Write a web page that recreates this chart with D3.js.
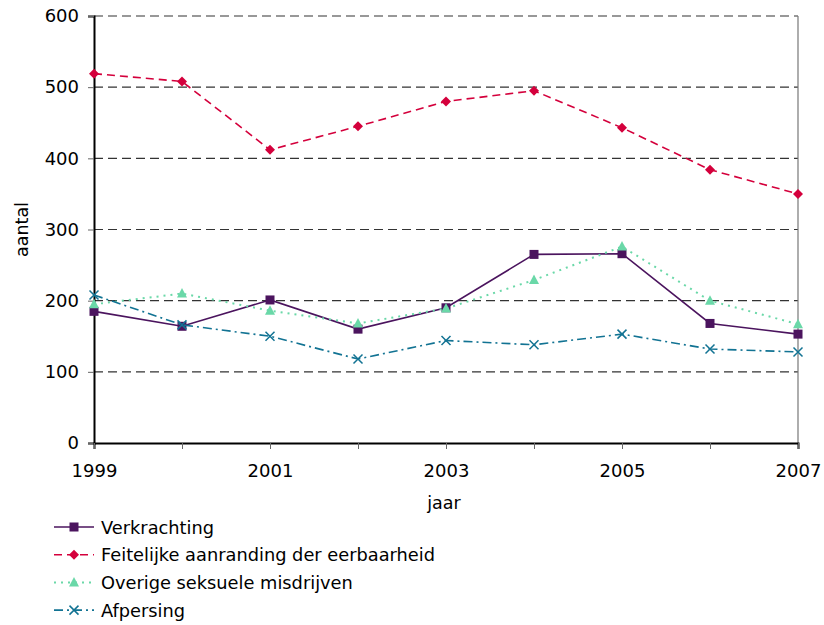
<!DOCTYPE html>
<html><head><meta charset="utf-8">
<script src="https://cdn.jsdelivr.net/npm/d3@7"></script>
<style>body{margin:0;background:#fff}svg{display:block}text{font-family:"DejaVu Sans",Verdana,sans-serif;fill:#000}</style>
</head><body><svg id="c" width="824" height="625"></svg>
<script>
const years = [1999,2000,2001,2002,2003,2004,2005,2006,2007];
const yearLabels = [1999,2001,2003,2005,2007];
const yTicks = [0,100,200,300,400,500,600];
const verkrachting = [185,164,201,160,190,265,266,168,153];
const feitelijke = [519,508,412,445,480,495,443,384,350];
const overige = [195,210,186,168,189,229,276,200,167];
const afpersing = [208,166,150,118,144,138,153,132,128];
const seriesNames = ["Verkrachting","Feitelijke aanranding der eerbaarheid","Overige seksuele misdrijven","Afpersing"];

const series = [
 {name:seriesNames[0], values:verkrachting, color:"#4b145e", dash:null, marker:"square", w:1.6},
 {name:seriesNames[1], values:feitelijke, color:"#d4003c", dash:"8,5", marker:"diamond", w:1.6},
 {name:seriesNames[2], values:overige, color:"#6ad8a8", dash:"2,5", marker:"triangle", w:2},
 {name:seriesNames[3], values:afpersing, color:"#127393", dash:"9,4,2,4", marker:"cross", w:1.6}
];

const svg = d3.select("#c");
const L=94,R=798,T=16,B=443;
const x = d3.scaleLinear().domain([1999,2007]).range([L,R]);
const y = d3.scaleLinear().domain([0,600]).range([B,T]);

// gridlines
svg.append("g").selectAll("line").data(yTicks.filter(d=>d>0)).join("line")
 .attr("x1",L).attr("x2",R).attr("y1",d=>y(d)).attr("y2",d=>y(d))
 .attr("stroke","#333").attr("stroke-width",1.2).attr("stroke-dasharray","9,5");
// right border
svg.append("line").attr("x1",R).attr("x2",R).attr("y1",T).attr("y2",B).attr("stroke","#777").attr("stroke-width",1.2);

// axes
const ya = d3.axisLeft(y).tickValues(yTicks).tickSize(6).tickPadding(9).tickFormat(d3.format("d"));
const gy = svg.append("g").attr("transform",`translate(${L},0)`).call(ya);
gy.select(".domain").attr("stroke","#000").attr("stroke-width",2);
gy.selectAll(".tick line").attr("stroke","#666");
gy.selectAll("text").attr("font-size","18px").attr("font-family","DejaVu Sans, sans-serif").attr("fill","#111");

const xa = d3.axisBottom(x).tickValues(years).tickSize(6).tickPadding(15).tickFormat(d=>yearLabels.includes(d)?String(d):"");
const gx = svg.append("g").attr("transform",`translate(0,${B})`).call(xa);
gx.select(".domain").attr("stroke","#000").attr("stroke-width",2);
gx.selectAll(".tick line").attr("stroke","#666");
gx.selectAll("text").attr("font-size","18px").attr("font-family","DejaVu Sans, sans-serif").attr("fill","#111");

svg.append("text").attr("x",(L+R)/2 - 2).attr("y",509).attr("text-anchor","middle").attr("font-size","17.5px").text("jaar");
svg.append("text").attr("transform",`translate(28,${(T+B)/2}) rotate(-90)`).attr("text-anchor","middle").attr("font-size","17.5px").text("aantal");

function marker(g,type,cx,cy,color){
  if(type==="square") g.append("rect").attr("x",cx-4.5).attr("y",cy-4.5).attr("width",9).attr("height",9).attr("fill",color);
  else if(type==="diamond") g.append("path").attr("d",`M${cx},${cy-5}L${cx+5},${cy}L${cx},${cy+5}L${cx-5},${cy}Z`).attr("fill",color);
  else if(type==="triangle") g.append("path").attr("d",`M${cx},${cy-5.5}L${cx+5},${cy+4}L${cx-5},${cy+4}Z`).attr("fill",color);
  else if(type==="cross") g.append("path").attr("d",`M${cx-4.5},${cy-4.5}L${cx+4.5},${cy+4.5}M${cx-4.5},${cy+4.5}L${cx+4.5},${cy-4.5}`).attr("stroke",color).attr("stroke-width",1.5);
}

const line = d3.line().x((d,i)=>x(years[i])).y(d=>y(d));
series.forEach(s=>{
  const g = svg.append("g");
  g.append("path").attr("d",line(s.values)).attr("fill","none").attr("stroke",s.color).attr("stroke-width",s.w).attr("stroke-dasharray",s.dash);
  s.values.forEach((v,i)=>marker(g,s.marker,x(years[i]),y(v),s.color));
});

// legend
const ly0=527, ldy=27.7;
series.forEach((s,i)=>{
  const g = svg.append("g");
  const yy = ly0+i*ldy;
  g.append("line").attr("x1",54).attr("x2",94).attr("y1",yy).attr("y2",yy).attr("stroke",s.color).attr("stroke-width",s.w).attr("stroke-dasharray",s.dash);
  marker(g,s.marker,74,yy,s.color);
  g.append("text").attr("x",101).attr("y",yy+6.5).attr("font-size","17.8px").text(s.name);
});
</script></body></html>
